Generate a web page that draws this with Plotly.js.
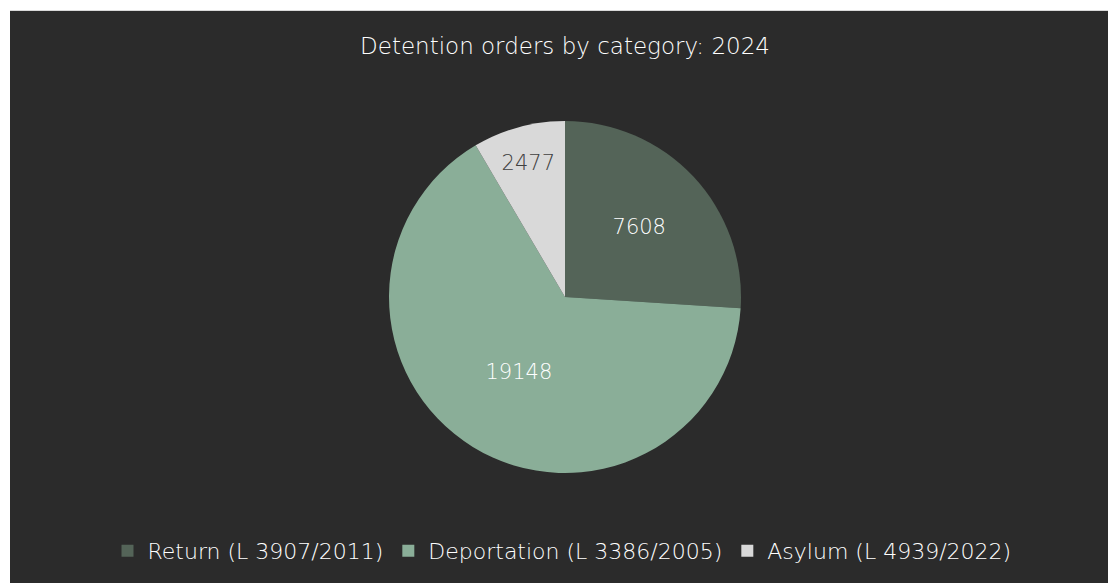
<!DOCTYPE html>
<html>
<head>
<meta charset="utf-8">
<script src="https://cdn.plot.ly/plotly-3.0.1.min.js"></script>
<style>
html,body{margin:0;padding:0;background:#ffffff;}
#chart{position:absolute;left:10px;top:10px;width:1098px;height:573px;border-top:1px solid #d9d9d9;}
</style>
</head>
<body>
<div id="chart"></div>
<script>
const categories = ["Return (L 3907/2011)", "Deportation (L 3386/2005)", "Asylum (L 4939/2022)"];
const values = [7608, 19148, 2477];
const colors = ["#546458", "#8aae98", "#d9d9d9"];
const textColors = ["#ffffff", "#ffffff", "#404040"];
const chartTitle = "Detention orders by category: 2024";

const W = 1098, H = 573;
const cx = 555, cy = 286, R = 176;
const FONT = "'DejaVu Sans', sans-serif";

const trace = {
  type: "pie",
  labels: categories,
  values: values,
  sort: false,
  direction: "clockwise",
  rotation: 0,
  marker: {colors: colors, line: {width: 0}},
  texttemplate: "%{value:d}",
  textposition: "inside",
  insidetextorientation: "horizontal",
  insidetextfont: {family: FONT, size: 21, weight: 300, color: textColors},
  hoverinfo: "label+value",
  domain: {x: [(cx - R) / W, (cx + R) / W], y: [(H - cy - R) / H, (H - cy + R) / H]}
};

const layout = {
  width: W, height: H,
  paper_bgcolor: "#2b2b2b",
  plot_bgcolor: "#2b2b2b",
  margin: {l: 0, r: 0, t: 0, b: 0},
  title: {
    text: chartTitle,
    x: 555 / W, xanchor: "center",
    y: 1 - 35 / H, yanchor: "middle",
    font: {family: FONT, size: 23, weight: 300, color: "#ffffff"}
  },
  showlegend: true,
  legend: {
    orientation: "h",
    x: 552 / W, xanchor: "center",
    y: 1 - 540 / H, yanchor: "middle",
    font: {family: FONT, size: 22, weight: 300, color: "#ffffff"},
    bgcolor: "rgba(0,0,0,0)",
    itemwidth: 30,
    traceorder: "normal"
  }
};

Plotly.newPlot("chart", [trace], layout, {displayModeBar: false, staticPlot: true});
</script>
</body>
</html>
